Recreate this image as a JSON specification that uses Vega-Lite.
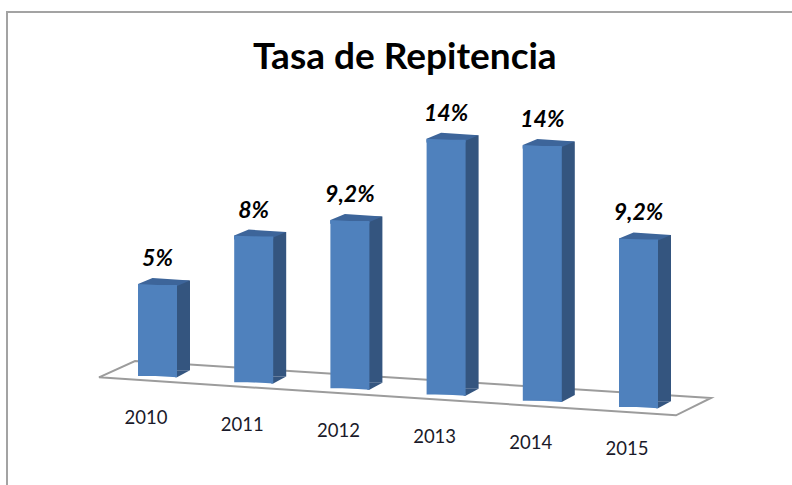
{
  "$schema": "https://vega.github.io/schema/vega-lite/v6.json",
  "width": 790,
  "height": 480,
  "autosize": "none",
  "padding": {"left": 7, "top": 12, "right": 0, "bottom": 0},
  "background": "white",
  "view": {"stroke": "#a3a3a3", "strokeWidth": 2},
  "title": {"text": "Tasa de Repitencia", "font": "Lato", "fontWeight": "bold", "fontSize": 37, "color": "#000000", "anchor": "start", "frame": "group", "baseline": "alphabetic", "offset": -94, "dx": 246},
  "data": {"values": [
    {"year": "2010", "value": 5, "label": "5%", "tope": 5, "piso": 0},
    {"year": "2011", "value": 8, "label": "8%", "tope": 7.66, "piso": -0.34},
    {"year": "2012", "value": 9.2, "label": "9,2%", "tope": 8.52, "piso": -0.68},
    {"year": "2013", "value": 14, "label": "14%", "tope": 12.98, "piso": -1.02},
    {"year": "2014", "value": 14, "label": "14%", "tope": 12.64, "piso": -1.36},
    {"year": "2015", "value": 9.2, "label": "9,2%", "tope": 7.5, "piso": -1.7}
  ]},
  "encoding": {
    "x": {"field": "year", "type": "nominal", "axis": null, "scale": {"type": "point", "padding": 0, "domain": ["2010", "2011", "2012", "2013", "2014", "2015"], "range": [150.5, 631.5]}}
  },
  "layer": [
    {
      "data": {"values": [{"year": "2010", "piso": 0}]},
      "mark": {"type": "point", "shape": "M-58.5 1.3L-22.5 -15L553.5 22L518.5 39.3Z", "size": 4, "filled": false, "stroke": "#9c9c9c", "strokeWidth": 2, "opacity": 1},
      "encoding": {"y": {"field": "piso", "type": "quantitative", "axis": null, "scale": {"domain": [-6.374, 20], "range": [480, 0], "nice": false, "zero": false}}}
    },
    {
      "mark": {"type": "bar", "size": 15, "xOffset": 25, "yOffset": -4.5, "y2Offset": -5.7, "color": "#34557f"},
      "encoding": {"y": {"field": "tope", "type": "quantitative"}, "y2": {"field": "piso"}}
    },
    {
      "mark": {"type": "point", "shape": "M17.5 1.3L19.5 1.3L32.5 -5.7L17.5 -5.7Z", "size": 4, "filled": true, "color": "#34557f", "opacity": 1, "strokeWidth": 0},
      "encoding": {"y": {"field": "piso", "type": "quantitative"}}
    },
    {
      "mark": {"type": "point", "shape": "M-19.5 3L-19.5 -1L-5 -7L32.5 -4.5L19.5 1L19.5 3Z", "size": 4, "filled": true, "color": "#3d659a", "opacity": 1, "strokeWidth": 0},
      "encoding": {"y": {"field": "tope", "type": "quantitative"}}
    },
    {
      "mark": {"type": "bar", "size": 39, "color": "#4f81bd"},
      "encoding": {"y": {"field": "tope", "type": "quantitative"}, "y2": {"field": "piso"}}
    },
    {
      "mark": {"type": "point", "shape": "M-19.5 -1L19.5 1L19.5 2L-19.5 2ZM-19.5 -1L-19.5 2Z", "size": 4, "filled": true, "color": "#4f81bd", "opacity": 1, "strokeWidth": 0},
      "encoding": {"y": {"field": "tope", "type": "quantitative"}}
    },
    {
      "mark": {"type": "point", "shape": "M-19.5 -1L19.5 -1L19.5 1.3Z", "size": 4, "filled": true, "color": "#4f81bd", "opacity": 1, "strokeWidth": 0},
      "encoding": {"y": {"field": "piso", "type": "quantitative"}}
    },
    {
      "mark": {"type": "text", "font": "Lato", "fontWeight": "bold", "fontStyle": "italic", "fontSize": 23, "color": "#000000", "baseline": "middle", "dy": -26},
      "encoding": {"y": {"field": "tope", "type": "quantitative"}, "text": {"field": "label"}}
    },
    {
      "mark": {"type": "text", "font": "Lato", "fontSize": 18.5, "color": "#1a1a2a", "baseline": "middle", "dx": -11.5, "dy": 42.5},
      "encoding": {"y": {"field": "piso", "type": "quantitative"}, "text": {"field": "year"}}
    }
  ]
}
